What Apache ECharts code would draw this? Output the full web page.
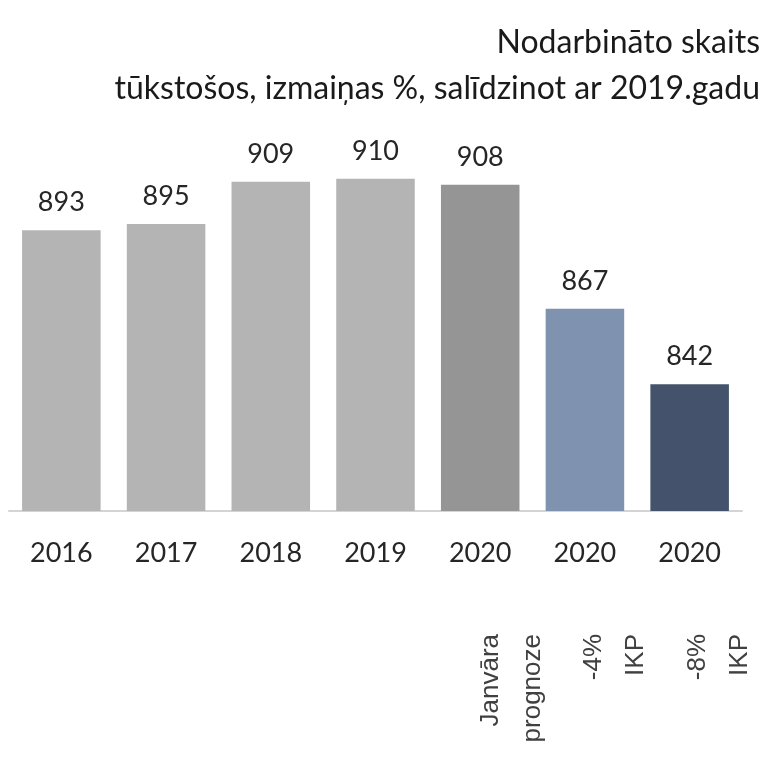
<!DOCTYPE html>
<html>
<head>
<meta charset="utf-8">
<script src="https://cdn.jsdelivr.net/npm/echarts@6/dist/echarts.min.js"></script>
<style>
  html, body { margin: 0; padding: 0; background: #fff; }
  #chart { width: 771px; height: 760px; }
</style>
</head>
<body>
<div id="chart"></div>
<script>
// dati
const years = ["2016", "2017", "2018", "2019", "2020", "2020", "2020"];
const notes = ["", "", "", "", "Janvāra\nprognoze", "-4%\nIKP", "-8%\nIKP"];
const employed = [893, 895, 909, 910, 908, 867, 842];
const barColors = ["#b4b4b4", "#b4b4b4", "#b4b4b4", "#b4b4b4", "#959595", "#7f93b0", "#44536b"];

const chart = echarts.init(document.getElementById("chart"));

chart.setOption({
  animation: false,
  backgroundColor: "#fff",
  title: [
    {
      text: "Nodarbināto skaits",
      right: 6,
      top: 22,
      textStyle: { fontFamily: "Lato", fontSize: 32, fontWeight: "normal", color: "#1a1a1a" },
    },
    {
      text: "tūkstošos, izmaiņas %, salīdzinot ar 2019.gadu",
      right: 6,
      top: 68,
      textStyle: { fontFamily: "Lato", fontSize: 32, fontWeight: "normal", color: "#1a1a1a" },
    },
  ],
  grid: [
    { left: 9, right: 29, top: 58, bottom: 249 },
    // otrā rinda parakstiem, nobīdīta pa labi
    { left: 44, width: 733, top: 58, bottom: 249 },
  ],
  xAxis: [
    {
      type: "category",
      gridIndex: 0,
      data: years,
      axisLine: { lineStyle: { color: "#d4d4d4", width: 2 } },
      axisTick: { show: false },
      axisLabel: {
        margin: 29,
        fontFamily: "Lato",
        fontSize: 27,
        color: "#262626",
      },
    },
    {
      type: "category",
      gridIndex: 1,
      data: notes,
      axisLine: { show: false },
      axisTick: { show: false },
      axisLabel: {
        interval: 0,
        rotate: 90,
        margin: 123,
        fontFamily: "Liberation Sans",
        fontSize: 26,
        lineHeight: 42,
        color: "#404040",
      },
    },
  ],
  yAxis: [
    {
      type: "value",
      gridIndex: 0,
      min: 800,
      max: 950,
      show: false,
    },
    {
      type: "value",
      gridIndex: 1,
      min: 0,
      max: 1,
      show: false,
    },
  ],
  series: [
    {
      type: "bar",
      xAxisIndex: 0,
      yAxisIndex: 0,
      barCategoryGap: "25%",
      data: employed.map((v, i) => ({ value: v, itemStyle: { color: barColors[i] } })),
      label: {
        show: true,
        position: "top",
        distance: 14,
        fontFamily: "Lato",
        fontSize: 27,
        color: "#262626",
      },
    },
  ],
});
</script>
</body>
</html>
